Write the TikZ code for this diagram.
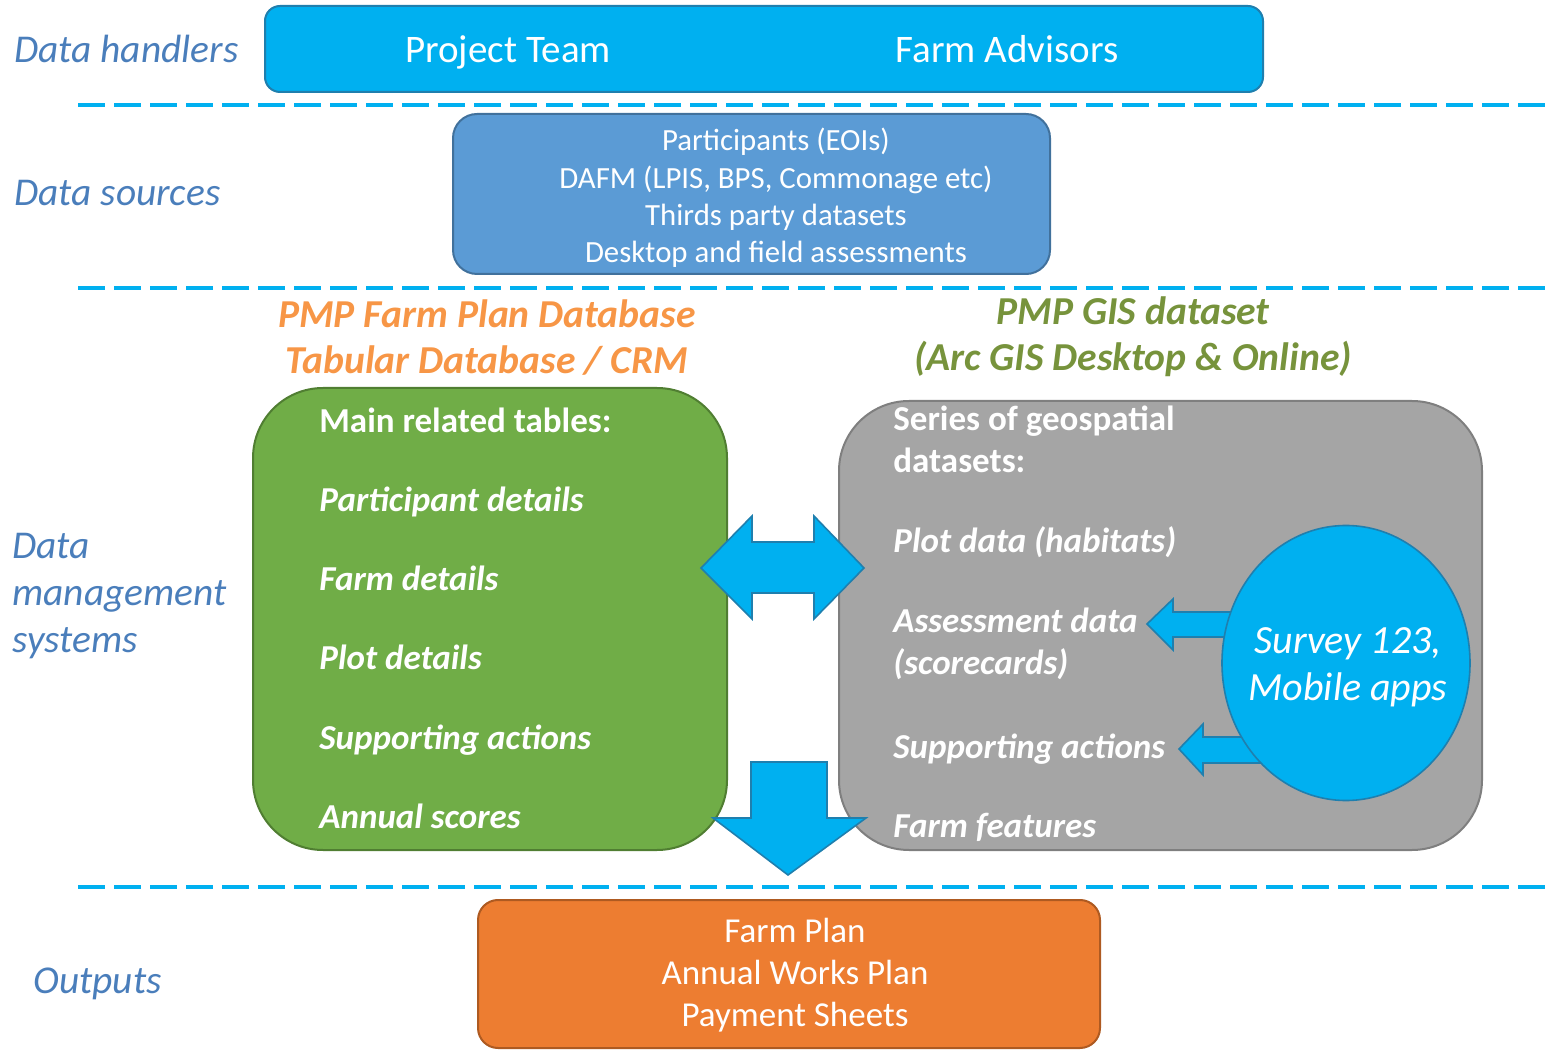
\documentclass[tikz,border=0pt]{standalone}
\usepackage{fontspec}
\setmainfont{Carlito}
\usetikzlibrary{shapes.geometric}
\definecolor{skyblue}{HTML}{00B0F0}
\definecolor{skyedge}{HTML}{1F7FAE}
\definecolor{srcblue}{HTML}{5B9BD5}
\definecolor{srcedge}{HTML}{41719C}
\definecolor{labelblue}{HTML}{4A7EBB}
\definecolor{dbgreen}{HTML}{70AD47}
\definecolor{dbedge}{HTML}{507E32}
\definecolor{gisgrey}{HTML}{A5A5A5}
\definecolor{gisedge}{HTML}{7F7F7F}
\definecolor{outorange}{HTML}{ED7D31}
\definecolor{outedge}{HTML}{AE5A21}
\definecolor{titleorange}{HTML}{F79646}
\definecolor{titlegreen}{HTML}{77933C}
\newcommand{\rowLabel}[0]{\fontsize{19.7pt}{23.5pt}\selectfont\itshape}
\newcommand{\boxText}[0]{\fontsize{17.5pt}{21pt}\selectfont}

\begin{document}
\begin{tikzpicture}[x=0.5pt, y=-0.5pt]
  \tikzset{rowlabel/.style={text=labelblue, anchor=west, align=left, font=\rowLabel, inner sep=0pt},
    oneline/.style={text height=#1, text depth=0pt},
    oneline/.default=11.3pt,
    panel/.style={draw, line width=1pt, inner sep=0pt},
    sep/.style={skyblue, line width=2pt, dash pattern=on 13.5pt off 4.5pt},
    blockarrow/.style={fill=skyblue, draw=skyedge, line width=0.8pt, line join=miter},
    item/.style={text=white, anchor=west, inner sep=0pt, font=\boxText\bfseries\itshape}}
  \useasboundingbox (0,0) rectangle (1554,1053);
  % separators
  \foreach \y in {105,288,887}
    \draw[sep] (78,\y) -- (1554,\y);
  % row labels
  \node[rowlabel, oneline=12.7pt] (handlers) at (14,50) {Data handlers};
  \node[rowlabel, oneline=12.7pt] (sources) at (14,193) {Data sources};
  \node[rowlabel] (dms) at (12,596) {Data\\management\\systems};
  \node[rowlabel, oneline=12.7pt] (outputs) at (33,981) {Outputs};
  % data handlers
  \node[panel, fill=skyblue, draw=skyedge, rounded corners=7.5pt, minimum width=499pt, minimum height=43pt] (team) at (764,49) {};
  \node[oneline=12.6pt, inner sep=0pt, text=white, font=\fontsize{19.5pt}{22pt}\selectfont] (project) at (508,50) {Project Team};
  \node[oneline=12.6pt, inner sep=0pt, text=white, font=\fontsize{19.5pt}{22pt}\selectfont] (advisors) at (1007,50) {Farm Advisors};
  % data sources
  \node[panel, fill=srcblue, draw=srcedge, rounded corners=12pt, minimum width=298.5pt, minimum height=80pt] (src) at (751.5,194) {};
  \node[text=white, align=center, font=\fontsize{15.4pt}{18.65pt}\selectfont] (srctext) at (776,198)
    {Participants (EOIs)\\DAFM (LPIS, BPS, Commonage etc)\\Thirds party datasets\\Desktop and field assessments};
  % database titles
  \node[text=titleorange, align=center, font=\fontsize{19.8pt}{23pt}\selectfont\bfseries\itshape] (dbtitle) at (487,338)
    {PMP Farm Plan Database\\Tabular Database / CRM};
  \node[text=titlegreen, align=center, font=\fontsize{19.8pt}{23pt}\selectfont\bfseries\itshape] (gistitle) at (1133,337)
    {PMP GIS dataset\\(Arc GIS Desktop \& Online)};
  % tabular database
  \node[panel, fill=dbgreen, draw=dbedge, rounded corners=35pt, minimum width=237pt, minimum height=231pt] (db) at (490,619) {};
  \node[item, oneline, font=\boxText\bfseries] (tables) at (319,421) {Main related tables:};
  \foreach \name/\txt [count=\i] in {participant/Participant details, farm/Farm details, plot/Plot details, support/Supporting actions, scores/Annual scores}
    \node[item, oneline] (\name) at (319,{420.5+79.3*\i}) {\txt};
  % gis dataset
  \node[panel, fill=gisgrey, draw=gisedge, rounded corners=35pt, minimum width=321.5pt, minimum height=224.5pt] (gis) at (1160.5,625.5) {};
  \node[item, font=\boxText\bfseries, align=left] (series) at (893,439) {Series of geospatial\\datasets:};
  \node[item, oneline] (plotdata) at (893,541) {Plot data (habitats)};
  \node[item, align=left] (assess) at (893,644) {Assessment data\\(scorecards)};
  \node[item, oneline] (gissupport) at (893,747) {Supporting actions};
  \node[item, oneline] (features) at (893,826) {Farm features};
  % feed arrows from the apps
  \draw[blockarrow] (1240,612) -- (1173,612) -- (1173,599) -- (1147,624) -- (1173,650) -- (1173,637) -- (1240,637);
  \draw[blockarrow] (1270,737) -- (1203,737) -- (1203,724) -- (1179,749) -- (1203,775) -- (1203,763) -- (1270,763);
  \node[ellipse, fill=skyblue, draw=skyedge, line width=0.8pt, minimum width=124pt, minimum height=137.5pt, inner sep=0pt] (apps) at (1346,663) {};
  \node[text=white, align=center, font=\fontsize{20pt}{23.5pt}\selectfont\itshape] (appstext) at (1348,667) {Survey 123,\\Mobile apps};
  % link and output arrows
  \draw[blockarrow] (701,568) -- (752,516) -- (752,542) -- (814,542) -- (814,516) -- (864,568)
    -- (814,619) -- (814,593) -- (752,593) -- (752,619) -- cycle;
  \draw[blockarrow] (751,762) -- (827,762) -- (827,818) -- (866,818) -- (788,875) -- (713,818) -- (751,818) -- cycle;
  % outputs
  \node[panel, fill=outorange, draw=outedge, rounded corners=10pt, minimum width=311pt, minimum height=74pt] (out) at (789,974) {};
  \node[text=white, align=center, font=\fontsize{17.5pt}{21pt}\selectfont] (outtext) at (795,975)
    {Farm Plan\\Annual Works Plan\\Payment Sheets};
\end{tikzpicture}
\end{document}
